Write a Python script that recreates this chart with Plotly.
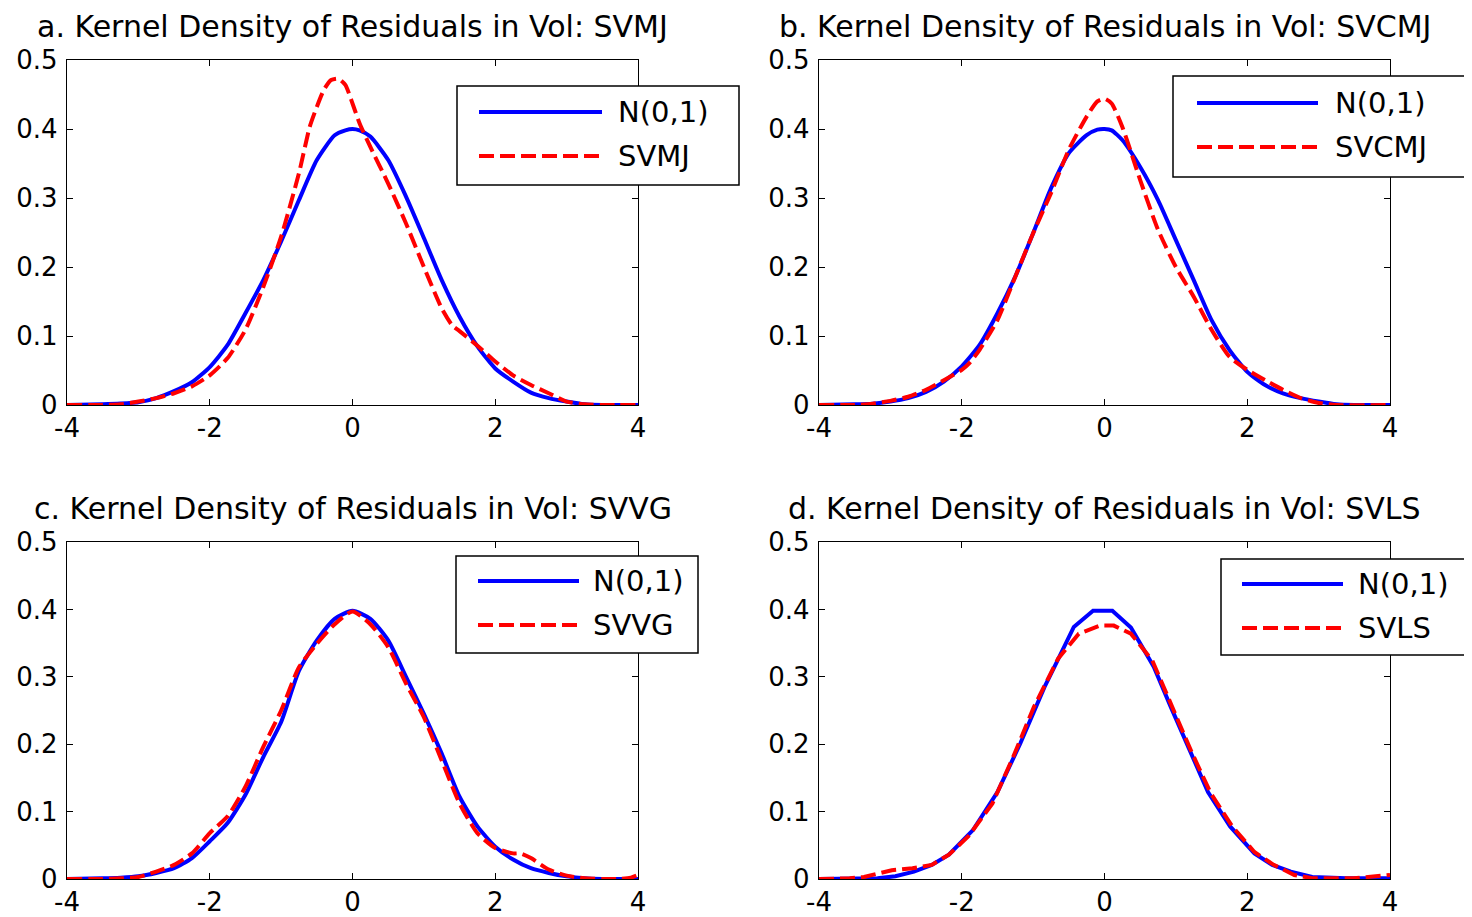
import plotly.graph_objects as go

# ---------------- data ----------------
titles = [
    "a. Kernel Density of Residuals in Vol: SVMJ",
    "b. Kernel Density of Residuals in Vol: SVCMJ",
    "c. Kernel Density of Residuals in Vol: SVVG",
    "d. Kernel Density of Residuals in Vol: SVLS",
]
model_names = ["SVMJ", "SVCMJ", "SVVG", "SVLS"]
normal_name = "N(0,1)"

x_ticks = [-4, -2, 0, 2, 4]
x_tick_labels = ["-4", "-2", "0", "2", "4"]
y_ticks = [0, 0.1, 0.2, 0.3, 0.4, 0.5]
y_tick_labels = ["0", "0.1", "0.2", "0.3", "0.4", "0.5"]

# panel a
a_norm_x = [-4, -3.5, -3.25, -3, -2.75, -2.5, -2.25, -2, -1.75, -1.5, -1.25, -1, -0.75, -0.5,
            -0.25, -0.1, 0, 0.1, 0.25, 0.5, 0.75, 1, 1.25, 1.5, 1.75, 2, 2.25, 2.5, 2.75, 3,
            3.25, 3.5, 4]
a_norm_y = [0, 0.001, 0.002, 0.004, 0.01, 0.02, 0.033, 0.055, 0.087, 0.133, 0.181, 0.237,
            0.297, 0.355, 0.391, 0.398, 0.40, 0.398, 0.389, 0.355, 0.302, 0.242, 0.181, 0.128,
            0.085, 0.053, 0.034, 0.018, 0.01, 0.005, 0.001, 0, 0]
a_model_x = [-4, -3.5, -3.25, -3, -2.75, -2.5, -2.25, -2, -1.75, -1.5, -1.25, -1, -0.75, -0.6,
             -0.5, -0.4, -0.3, -0.2, -0.1, 0, 0.1, 0.25, 0.5, 0.75, 1, 1.25, 1.4, 1.5, 1.75, 2,
             2.25, 2.5, 2.75, 3, 3.25, 3.5, 4]
a_model_y = [0, 0, 0.001, 0.005, 0.01, 0.017, 0.027, 0.043, 0.068, 0.109, 0.171, 0.244, 0.336,
             0.403, 0.432, 0.457, 0.471, 0.473, 0.464, 0.437, 0.408, 0.374, 0.321, 0.263, 0.2,
             0.14, 0.115, 0.107, 0.086, 0.063, 0.043, 0.029, 0.017, 0.005, 0.001, 0, 0]

# panel b
b_norm_x = [-4, -3.5, -3.25, -3, -2.75, -2.5, -2.25, -2, -1.75, -1.5, -1.25, -1, -0.75, -0.5,
            -0.25, -0.1, 0, 0.1, 0.25, 0.5, 0.75, 1, 1.25, 1.5, 1.75, 2, 2.25, 2.5, 2.75, 3,
            3.25, 3.5, 4]
b_norm_y = [0, 0.001, 0.002, 0.005, 0.01, 0.019, 0.034, 0.056, 0.087, 0.133, 0.186, 0.249,
            0.314, 0.365, 0.391, 0.399, 0.40, 0.398, 0.384, 0.345, 0.297, 0.239, 0.181, 0.123,
            0.08, 0.048, 0.029, 0.017, 0.01, 0.005, 0.001, 0, 0]
b_model_x = [-4, -3.5, -3.25, -3, -2.75, -2.5, -2.25, -2, -1.9, -1.75, -1.5, -1.25, -1, -0.75,
             -0.5, -0.25, -0.1, 0, 0.1, 0.25, 0.5, 0.75, 1, 1.25, 1.5, 1.75, 2, 2.25, 2.5,
             2.75, 3, 3.25, 4]
b_model_y = [0, 0, 0.002, 0.006, 0.012, 0.022, 0.036, 0.051, 0.06, 0.08, 0.123, 0.186, 0.249,
             0.307, 0.37, 0.418, 0.44, 0.444, 0.437, 0.403, 0.326, 0.254, 0.2, 0.157, 0.109,
             0.07, 0.051, 0.036, 0.022, 0.01, 0.003, 0, 0]

# panel c
c_norm_x = [-4, -3.5, -3.25, -3, -2.75, -2.5, -2.25, -2, -1.75, -1.5, -1.25, -1, -0.75, -0.5,
            -0.25, 0, 0.25, 0.5, 0.75, 1, 1.25, 1.5, 1.75, 2, 2.25, 2.5, 2.75, 3, 3.25, 3.5, 4]
c_norm_y = [0, 0.001, 0.002, 0.004, 0.009, 0.016, 0.031, 0.056, 0.083, 0.125, 0.181, 0.233,
            0.309, 0.354, 0.386, 0.398, 0.386, 0.354, 0.30, 0.245, 0.186, 0.122, 0.078, 0.048,
            0.029, 0.016, 0.009, 0.004, 0.001, 0, 0]
c_model_x = [-4, -3.5, -3.25, -3, -2.75, -2.5, -2.25, -2, -1.75, -1.5, -1.25, -1, -0.75, -0.5,
             -0.25, 0, 0.25, 0.5, 0.75, 1, 1.25, 1.5, 1.75, 2, 2.25, 2.35, 2.5, 2.75, 3, 3.25,
             3.5, 3.75, 3.9, 4]
c_model_y = [0, 0, 0.001, 0.003, 0.011, 0.021, 0.038, 0.068, 0.093, 0.137, 0.196, 0.25, 0.314,
             0.349, 0.378, 0.397, 0.378, 0.344, 0.29, 0.24, 0.176, 0.112, 0.068, 0.046, 0.038,
             0.038, 0.031, 0.014, 0.005, 0.001, 0, 0, 0.002, 0.006]

# panel d
d_norm_x = [-4, -3.18, -2.93, -2.67, -2.42, -2.18, -1.84, -1.5, -1.18, -0.84, -0.7, -0.43,
            -0.16, 0.11, 0.37, 0.69, 0.93, 1.2, 1.45, 1.76, 2.1, 2.35, 2.61, 2.91, 3.39, 4]
d_norm_y = [0, 0.001, 0.004, 0.011, 0.021, 0.036, 0.073, 0.129, 0.201, 0.285, 0.315, 0.374,
            0.398, 0.398, 0.373, 0.315, 0.255, 0.191, 0.129, 0.078, 0.038, 0.021, 0.011, 0.003,
            0.001, 0.001]
d_model_x = [-4, -3.57, -3.37, -2.98, -2.69, -2.42, -2.18, -1.91, -1.57, -1.28, -0.99, -0.65,
             -0.36, -0.06, 0.13, 0.37, 0.67, 0.93, 1.23, 1.49, 1.79, 2.1, 2.37, 2.66, 2.91,
             3.49, 3.73, 4]
d_model_y = [0, 0.001, 0.003, 0.013, 0.016, 0.021, 0.036, 0.063, 0.112, 0.181, 0.255, 0.327,
             0.364, 0.376, 0.376, 0.364, 0.324, 0.26, 0.186, 0.127, 0.078, 0.04, 0.021, 0.006,
             0.001, 0.001, 0.004, 0.006]

panels = [
    (a_norm_x, a_norm_y, a_model_x, a_model_y),
    (b_norm_x, b_norm_y, b_model_x, b_model_y),
    (c_norm_x, c_norm_y, c_model_x, c_model_y),
    (d_norm_x, d_norm_y, d_model_x, d_model_y),
]
# the first three panels are smooth kernel curves, the last is a coarse polyline
line_shapes = ["spline", "spline", "spline", "linear"]

# ---------------- layout geometry ----------------
# The page body keeps its default 8px margin, so the figure is 8px smaller than the
# window on each axis and target screen pixels are converted with that offset.
OFF = 8
W, H = 1472 - OFF, 917 - OFF
def px(X):
    return (X - OFF) / W
def py(Y):
    return 1 - (Y - OFF) / H

col_px = [(67, 638), (819, 1390)]
row_px = [(60, 405), (542, 879)]
title_y = [27, 508]

# legend boxes: (left, top, right, bottom, line_x0, line_x1, row1_y, row2_y, text_x)
legend_px = [
    (457, 86, 739, 185, 479, 602, 112, 156, 616),
    (1173, 76, 1471, 177, 1197, 1318, 103, 147, 1333),
    (456, 556, 698, 653, 478, 579, 581, 625, 591),
    (1221, 559, 1470, 655, 1242, 1343, 584, 628, 1356),
]

FONT = "DejaVu Sans, Liberation Sans, Arial, sans-serif"
BLUE = "#0000FF"
RED = "#FF0000"

fig = go.Figure()
shapes = []
annotations = []

for i, (nx, ny, mx, my) in enumerate(panels):
    r, c = divmod(i, 2)
    xa = "x" if i == 0 else f"x{i+1}"
    ya = "y" if i == 0 else f"y{i+1}"
    fig.add_trace(go.Scatter(x=nx, y=ny, mode="lines", name=normal_name,
                             line=dict(color=BLUE, width=4, shape=line_shapes[i], smoothing=0.6),
                             xaxis=xa, yaxis=ya, showlegend=False))
    fig.add_trace(go.Scatter(x=mx, y=my, mode="lines", name=model_names[i],
                             line=dict(color=RED, width=4, dash="15px,6px",
                                       shape=line_shapes[i], smoothing=0.6),
                             xaxis=xa, yaxis=ya, showlegend=False))

    x0, x1 = col_px[c]
    y0, y1 = row_px[r]
    axis_common = dict(showline=True, linecolor="black", linewidth=1.3, mirror="ticks",
                       ticks="inside", ticklen=6, tickwidth=1, tickcolor="black",
                       showgrid=False, zeroline=False, fixedrange=True, automargin=False,
                       tickfont=dict(family=FONT, size=26, color="black"))
    fig.update_layout(**{
        ("xaxis" if i == 0 else f"xaxis{i+1}"): dict(
            domain=[px(x0), px(x1)], range=[-4, 4], anchor=ya,
            tickmode="array", tickvals=x_ticks, ticktext=x_tick_labels,
            ticklabelstandoff=0, **axis_common),
        ("yaxis" if i == 0 else f"yaxis{i+1}"): dict(
            domain=[py(y1), py(y0)], range=[0, 0.5], anchor=xa,
            tickmode="array", tickvals=y_ticks, ticktext=y_tick_labels,
            ticklabelstandoff=3, **axis_common),
    })

    # title
    annotations.append(dict(x=px((x0 + x1) / 2), y=py(title_y[r]), xref="paper", yref="paper",
                            text=titles[i], showarrow=False, xanchor="center", yanchor="middle",
                            font=dict(family=FONT, size=30, color="black")))

    # legend (box, line samples, labels)
    L, T, R, B, lx0, lx1, ry1, ry2, tx = legend_px[i]
    shapes.append(dict(type="rect", xref="paper", yref="paper",
                       x0=px(L), x1=px(R), y0=py(B), y1=py(T),
                       fillcolor="white", line=dict(color="black", width=1.5), layer="above"))
    shapes.append(dict(type="line", xref="paper", yref="paper",
                       x0=px(lx0), x1=px(lx1), y0=py(ry1), y1=py(ry1),
                       line=dict(color=BLUE, width=4), layer="above"))
    shapes.append(dict(type="line", xref="paper", yref="paper",
                       x0=px(lx0), x1=px(lx1), y0=py(ry2), y1=py(ry2),
                       line=dict(color=RED, width=4, dash="15px,6px"), layer="above"))
    for label, yy in ((normal_name, ry1), (model_names[i], ry2)):
        annotations.append(dict(x=px(tx), y=py(yy), xref="paper", yref="paper",
                                text=label, showarrow=False, xanchor="left", yanchor="middle",
                                font=dict(family=FONT, size=29, color="black")))

fig.update_layout(
    width=W, height=H,
    margin=dict(l=0, r=0, t=0, b=0, autoexpand=False),
    paper_bgcolor="white", plot_bgcolor="white",
    showlegend=False,
    shapes=shapes, annotations=annotations,
)

fig.write_html("out.html")
